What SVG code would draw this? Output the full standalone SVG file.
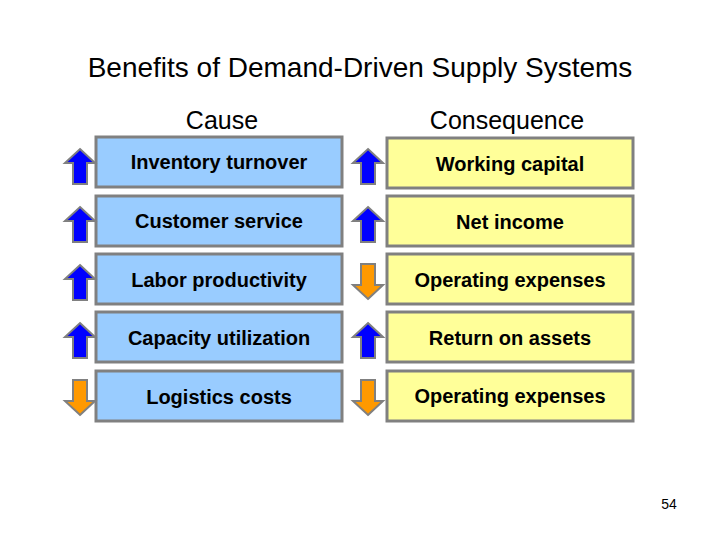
<svg xmlns="http://www.w3.org/2000/svg" width="720" height="540" viewBox="0 0 720 540">
<style>
.t{font-family:"Liberation Sans",Arial,sans-serif;fill:#000}
.h{font-size:28px}
.c{font-size:25px;text-anchor:middle}
.b{font-size:20px;font-weight:bold;text-anchor:middle}
.cause{fill:#99ccff;stroke:#808080;stroke-width:3}
.cons{fill:#ffff99;stroke:#808080;stroke-width:3}
.up{fill:#0000ff;stroke:#808080;stroke-width:2;stroke-linejoin:miter}
.dn{fill:#ff9900;stroke:#808080;stroke-width:2;stroke-linejoin:miter}
</style>
<defs>
<path id="up" d="M0,-17 L15,-3 L7,-3 L7,18 L-7,18 L-7,-3 L-15,-3 Z"/>
<path id="dn" d="M0,18 L15,4 L7,4 L7,-17 L-7,-17 L-7,4 L-15,4 Z"/>
</defs>
<rect width="720" height="540" fill="#fff"/>
<text class="t h" x="360" y="77" text-anchor="middle">Benefits of Demand-Driven Supply Systems</text>
<text class="t c" x="222" y="129">Cause</text>
<text class="t c" x="507" y="129">Consequence</text>
<g id="row1">
<rect class="cause" x="96" y="137" width="246" height="50"/>
<text class="t b" x="219" y="169">Inventory turnover</text>
<use href="#up" class="up" x="80" y="166"/>
<rect class="cons" x="387" y="138" width="246" height="50"/>
<text class="t b" x="510" y="171">Working capital</text>
<use href="#up" class="up" x="368" y="166"/>
</g>
<g id="row2">
<rect class="cause" x="96" y="196" width="246" height="50"/>
<text class="t b" x="219" y="228">Customer service</text>
<use href="#up" class="up" x="80" y="224"/>
<rect class="cons" x="387" y="196" width="246" height="50"/>
<text class="t b" x="510" y="229">Net income</text>
<use href="#up" class="up" x="368" y="224"/>
</g>
<g id="row3">
<rect class="cause" x="96" y="254" width="246" height="50"/>
<text class="t b" x="219" y="287">Labor productivity</text>
<use href="#up" class="up" x="80" y="282"/>
<rect class="cons" x="387" y="254" width="246" height="50"/>
<text class="t b" x="510" y="287">Operating expenses</text>
<use href="#dn" class="dn" x="368" y="281"/>
</g>
<g id="row4">
<rect class="cause" x="96" y="312" width="246" height="50"/>
<text class="t b" x="219" y="345">Capacity utilization</text>
<use href="#up" class="up" x="80" y="340"/>
<rect class="cons" x="387" y="312" width="246" height="50"/>
<text class="t b" x="510" y="345">Return on assets</text>
<use href="#up" class="up" x="368" y="340"/>
</g>
<g id="row5">
<rect class="cause" x="96" y="371" width="246" height="50"/>
<text class="t b" x="219" y="404">Logistics costs</text>
<use href="#dn" class="dn" x="80" y="397"/>
<rect class="cons" x="387" y="371" width="246" height="50"/>
<text class="t b" x="510" y="403">Operating expenses</text>
<use href="#dn" class="dn" x="368" y="397"/>
</g>
<g id="connectors"/>
<text class="t" x="669" y="509" font-size="14" text-anchor="middle">54</text>
</svg>
